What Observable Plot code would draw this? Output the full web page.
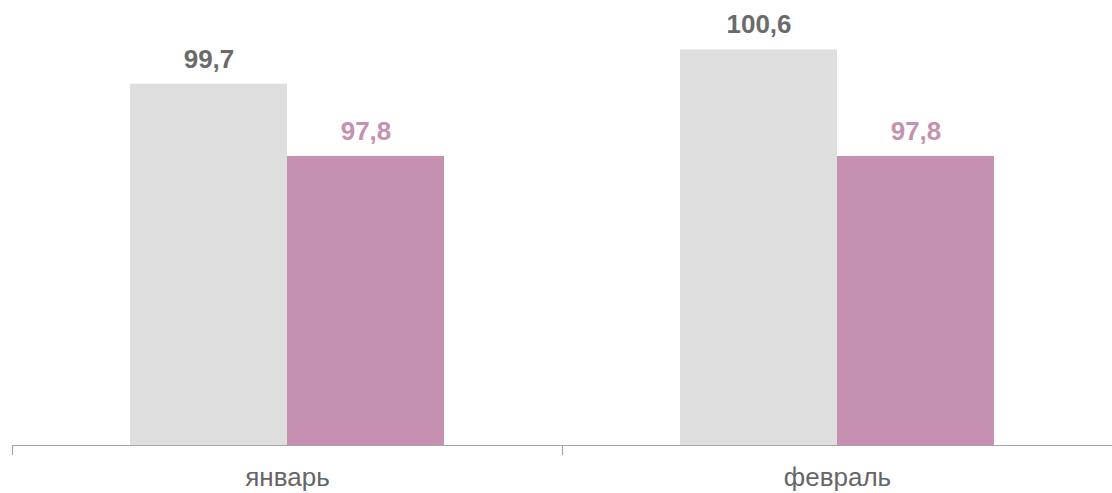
<!DOCTYPE html>
<html>
<head>
<meta charset="utf-8">
<script src="https://cdn.jsdelivr.net/npm/d3@7"></script>
<script src="https://cdn.jsdelivr.net/npm/@observablehq/plot@0.6"></script>
<style>
  html, body { margin: 0; padding: 0; background: #fff; }
  #chart svg { display: block; }
</style>
</head>
<body>
<div id="chart"></div>
<script>
const months = ["январь", "февраль"];
const seriesKeys = ["prev", "curr"];
const prevValues = [99.7, 100.6];
const currValues = [97.8, 97.8];

const W = 1112, H = 493;
const mLeft = 12, mRight = 0, mTop = 0, mBottom = 48;
const yMin = 90.2, yMax = 101.9;
const grayBar = "#DEDEDE", pinkBar = "#C690B0";
const grayText = "#6b6b6b", pinkText = "#C690B0";
const axisColor = "#a6a6a6";
const font = "'Liberation Sans', Arial, Helvetica, sans-serif";

const data = months.flatMap((m, i) => [
  {month: m, series: seriesKeys[0], value: prevValues[i]},
  {month: m, series: seriesKeys[1], value: currValues[i]}
]);
const fmt = v => d3.format(".1f")(v).replace(".", ",");
const isPrev = d => d.series === seriesKeys[0];
const isCurr = d => d.series === seriesKeys[1];
const facetStep = (W - mLeft - mRight) / months.length;

const chart = Plot.plot({
  width: W, height: H,
  marginLeft: mLeft, marginRight: mRight, marginTop: mTop, marginBottom: mBottom,
  style: {fontFamily: font, background: "#fff"},
  fx: {domain: months, padding: 0, label: null, axis: null},
  x: {domain: seriesKeys, paddingInner: 0, paddingOuter: 0.746, axis: null},
  y: {domain: [yMin, yMax], axis: null},
  marks: [
    Plot.barY(data, {filter: isPrev, fx: "month", x: "series", y1: yMin, y2: "value", fill: grayBar}),
    Plot.barY(data, {filter: isCurr, fx: "month", x: "series", y1: yMin, y2: "value", fill: pinkBar}),
    Plot.text(data, {filter: isPrev, fx: "month", x: "series", y: "value", text: d => fmt(d.value),
      dy: -25, fill: grayText, fontWeight: "bold", fontSize: 26}),
    Plot.text(data, {filter: isCurr, fx: "month", x: "series", y: "value", text: d => fmt(d.value),
      dy: -25, fill: pinkText, fontWeight: "bold", fontSize: 26}),
    Plot.ruleY([yMin], {stroke: axisColor, strokeWidth: 1.2}),
    Plot.axisFx({anchor: "bottom", tickSize: 0, tickPadding: 22, fontSize: 26, fill: "#666", label: null}),
    Plot.axisFx({anchor: "bottom", tickSize: 10, text: null, label: null, dx: -facetStep / 2, stroke: axisColor, strokeWidth: 1.2})
  ]
});
document.getElementById("chart").appendChild(chart);
</script>
</body>
</html>
